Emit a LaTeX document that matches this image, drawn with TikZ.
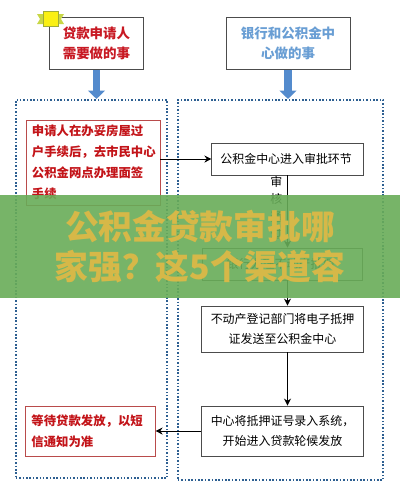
\documentclass[tikz,border=0pt]{standalone}
\usepackage{fontspec}
\setmainfont{Noto Sans CJK SC}
\usepackage{xcolor}
\usetikzlibrary{arrows.meta, positioning, calc}

\definecolor{hdrred}{RGB}{200,25,35}
\definecolor{hdrblue}{RGB}{105,158,212}
\definecolor{dotblue}{RGB}{45,95,145}
\definecolor{arrblue}{RGB}{84,139,205}
\definecolor{boxred}{RGB}{185,75,75}
\definecolor{txtred}{RGB}{195,20,25}
\definecolor{ribyellow}{RGB}{250,240,20}
\definecolor{ribgreen}{RGB}{200,215,70}
\definecolor{bannergreen}{RGB}{104,172,88}
\definecolor{bannergold}{RGB}{214,184,72}

\begin{document}
\begin{tikzpicture}[
    x=0.025cm, y=-0.025cm,
    hdr/.style={
      rectangle, draw=black!70, line width=0.6pt,
      fill=white, align=center,
      font=\bfseries\fontsize{9.6}{14}\selectfont
    },
    frame/.style={
      rectangle, draw=dotblue, line width=1.4pt,
      dash pattern=on 1.1pt off 1.3pt
    },
    rbox/.style={
      rectangle, draw=boxred, line width=0.6pt,
      fill=white, text=txtred, align=left, inner sep=0pt,
      font=\bfseries\fontsize{8.8}{15}\selectfont
    },
    sbox/.style={
      rectangle, draw=black!70, line width=0.6pt,
      fill=white, align=center, inner sep=0pt,
      font=\fontsize{8.5}{14}\selectfont
    },
    arr/.style={-{Stealth[length=5pt,width=5pt]}, line width=0.7pt, color=black},
    bluearr/.style={-{Triangle[length=6pt,width=12pt]}, line width=5.6pt, color=arrblue}
  ]
    \useasboundingbox (0,0) rectangle (400,495);

    % column frames
    \node[frame, minimum width=3.78cm, minimum height=9.45cm] (frameL) at (91.5,289) {};
    \node[frame, minimum width=5.13cm, minimum height=9.5cm] (frameR) at (280.5,290) {};

    % headers
    \node[hdr, text=hdrred, minimum width=2.33cm, minimum height=1.28cm] (hdrL) at (96.5,43.5) {
      贷款申请人\\需要做的事
    };
    \node[hdr, text=hdrblue, minimum width=3.1cm, minimum height=1.28cm] (hdrR) at (288,43.5) {
      银行和公积金中\\心做的事
    };

    % ribbon icon
    \fill[ribgreen] (37,14) -- (45,14) -- (45,24) -- (37,24) -- (40,19) -- cycle;
    \fill[ribgreen] (64,14) -- (56,14) -- (56,24) -- (64,24) -- (61,19) -- cycle;
    \filldraw[fill=ribyellow, draw=ribgreen!80!black, line width=0.4pt] (43,11) rectangle (58,26);

    \draw[bluearr] (hdrL.south) -- (hdrL.south |- frameL.north);
    \draw[bluearr] (hdrR.south) -- (hdrR.south |- frameR.north);

    % applicant side
    \node[rbox, minimum width=3.35cm, minimum height=2.125cm, text width=3.05cm] (apply) at (93,162.5) {
      申请人在办妥房屋过\\户手续后，去市民中心\\公积金网点办理面签\\手续
    };
    \node[rbox, minimum width=3.23cm, minimum height=1.25cm, text width=2.95cm] (wait) at (90.5,431) {
      等待贷款发放，以短\\信通知为准
    };

    % bank / fund centre side
    \node[sbox, minimum width=3.78cm, minimum height=0.8cm] (audit) at (287.5,159) {
      公积金中心进入审批环节
    };
    \node[sbox, minimum width=4.0cm, minimum height=0.8cm] (bank) at (282,264) {
      银行办理不动产抵押
    };
    \node[sbox, minimum width=4.03cm, minimum height=1.15cm] (cert) at (282.5,329) {
      不动产登记部门将电子抵押\\证发送至公积金中心
    };
    \node[sbox, minimum width=4.03cm, minimum height=1.25cm] (record) at (282.5,431) {
      中心将抵押证号录入系统，\\开始进入贷款轮候发放
    };

    \draw[arr] (apply.east |- audit.west) -- (audit.west);
    \draw[arr] (audit.south) -- (audit.south |- bank.north)
      node[pos=0.45, left=0pt, align=center, font=\fontsize{8.5}{12.5}\selectfont] (pass) {审\\核\\通\\过};
    \draw[arr] (audit.south |- bank.south) -- (audit.south |- cert.north);
    \draw[arr] (audit.south |- cert.south) -- (audit.south |- record.north);
    \draw[arr] (record.west) -- (wait.east);

    % title banner over the chart
    \node[rectangle, fill=bannergreen, fill opacity=0.9, text opacity=1, text=bannergold,
      minimum width=10cm, minimum height=2.575cm, align=center,
      font=\bfseries\fontsize{24}{28.5}\selectfont] (banner) at (200,246.5) {
      公积金贷款审批哪\\家强？这5个渠道容
    };
\end{tikzpicture}
\end{document}
